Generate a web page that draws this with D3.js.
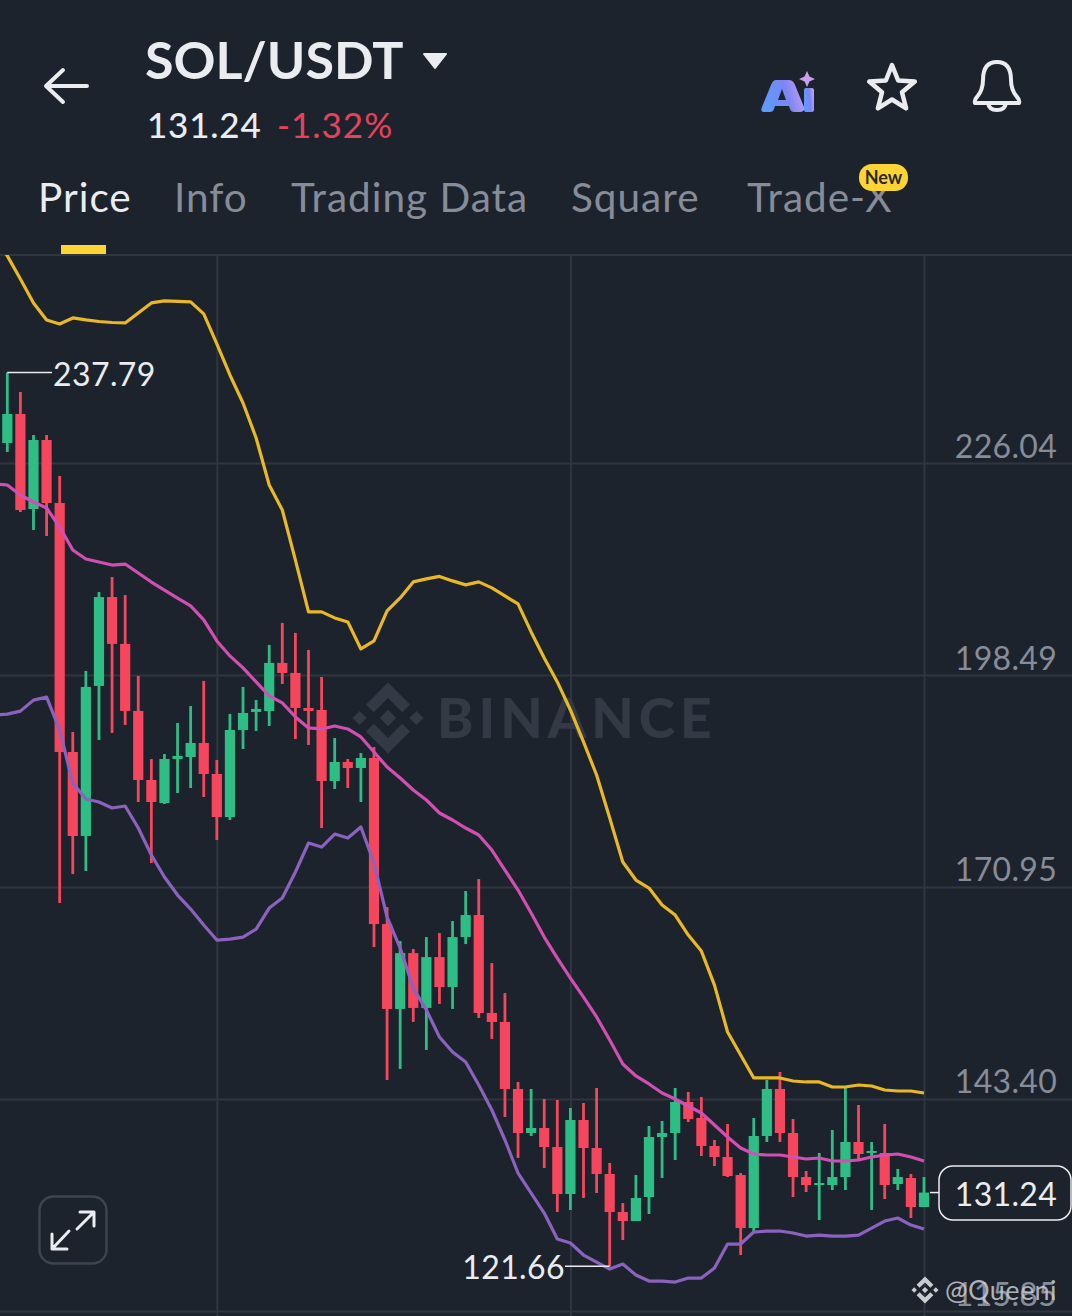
<!DOCTYPE html>
<html>
<head>
	<meta charset="utf-8">
	<title>SOL/USDT</title>
	<script src="https://d3js.org/d3.v7.min.js"></script>
	<style>
		html, body { margin: 0; padding: 0; background: #1d232d; }
		svg { display: block; font-family: "Lato", "Open Sans", sans-serif; }
	</style>
</head>
<body>
	<div id="chart"></div>

	<script type="text/javascript">

		// candles (index 0 is the leftmost candle)
		const opens = [228.64,232.41,220.06,229.03,220.84,188.49,177.57,197.07,208.62,202.53,193.82,184.85,181.86,187.58,187.84,189.66,185.63,180.04,191.35,193.69,193.82,200.06,198.76,194.21,193.95,184.72,187.19,186.41,187.71,166.13,155.10,162.36,155.23,161.84,157.94,164.44,167.30,154.58,153.41,144.70,138.98,139.63,137.16,131.05,140.67,137.03,133.65,128.71,127.54,130.66,138.46,138.98,143.01,140.93,137.29,135.86,133.52,126.63,138.59,144.70,138.98,133.26,132.22,132.22,133.26,137.81,136.38,136.38,132.35,133.13,129.36];
		const highs = [237.79,235.27,229.68,229.68,224.35,191.09,199.02,209.27,211.22,208.88,198.37,187.58,188.23,192.26,194.47,197.72,187.45,193.43,196.94,195.25,202.40,205.26,203.96,201.75,198.24,190.31,187.58,188.36,189.14,168.34,163.92,162.88,164.44,164.96,166.52,170.42,171.98,161.06,157.16,145.61,144.70,143.40,143.27,142.23,142.88,144.83,135.08,129.88,133.52,139.89,140.54,144.83,144.31,143.66,138.07,140.15,133.78,140.93,145.87,146.91,140.80,134.04,136.38,139.37,144.83,142.62,137.81,140.15,134.30,133.65,133.26];
		const lows = [227.47,219.67,217.33,216.55,168.86,172.63,173.02,190.05,190.96,192.00,181.99,174.06,181.73,183.16,183.81,182.64,177.05,179.65,188.88,191.22,191.87,197.33,190.18,189.40,178.61,183.68,183.81,181.99,163.14,145.87,147.30,153.41,149.77,155.75,155.10,163.53,153.93,151.20,141.06,135.73,138.59,134.43,128.71,128.97,130.53,131.18,121.66,125.07,127.54,128.45,133.13,135.47,140.41,135.99,134.69,133.26,123.12,126.11,137.81,137.81,130.66,131.31,127.67,131.57,131.57,135.60,128.97,130.40,131.57,127.93,129.36];
		const closes = [232.41,219.93,229.03,220.84,188.49,177.57,196.94,208.62,202.53,193.82,184.85,181.99,187.58,187.97,189.66,185.63,180.04,191.35,193.56,194.08,200.06,198.76,194.21,193.82,184.72,187.19,186.41,187.71,166.13,155.10,162.36,155.23,161.84,157.94,164.44,167.30,154.58,153.41,144.70,138.98,139.63,137.16,131.05,140.67,137.03,133.65,128.71,127.54,130.53,138.46,138.98,143.01,140.80,137.29,135.86,133.39,126.63,138.59,144.70,138.98,133.26,132.22,132.48,133.26,137.81,136.25,136.64,132.22,133.26,129.36,131.24];

		// bollinger bands, these start one candle left of the first candle
		const upperBand = [255.68,252.95,249.96,246.84,244.63,244.11,244.89,244.63,244.43,244.30,244.24,245.54,246.84,247.10,247.03,246.97,245.41,241.51,237.48,233.84,229.29,223.18,219.93,213.43,206.69,206.69,205.91,205.39,201.88,202.92,206.82,208.51,210.59,210.98,211.30,210.72,210.20,210.59,209.81,208.77,207.73,204.09,200.71,197.59,193.95,189.79,185.50,179.91,174.19,171.85,170.81,168.60,167.30,164.70,162.62,158.20,152.11,149.12,146.13,146.13,146.13,145.74,145.61,145.61,144.96,144.96,145.22,145.09,144.57,144.44,144.44,144.18];
		const midBand = [223.31,223.18,221.88,220.97,220.19,217.72,214.73,213.56,213.17,212.78,212.91,211.74,210.57,209.53,208.49,207.47,205.65,202.92,200.97,199.41,197.59,195.77,194.86,193.04,191.61,191.48,191.87,191.48,190.44,188.49,186.54,185.11,183.55,182.25,180.56,179.65,178.61,177.70,175.75,173.15,170.55,167.56,164.44,161.71,159.11,156.64,154.06,151.07,147.95,146.39,145.35,144.18,143.40,142.49,141.58,140.02,138.46,137.03,136.25,136.12,136.12,135.86,135.60,135.73,135.34,135.34,135.47,135.86,136.12,136.25,135.86,135.34];
		const lowerBand = [193.28,193.41,193.80,195.23,195.62,191.35,184.46,182.38,181.99,181.21,181.47,178.61,175.10,172.24,169.90,168.08,166.00,164.05,164.18,164.44,165.48,168.21,169.51,172.89,176.66,176.14,177.83,177.31,178.74,174.06,167.04,163.01,157.81,154.97,151.46,149.51,148.21,145.22,141.97,138.07,133.78,131.18,128.58,125.20,124.68,123.12,122.21,121.30,121.95,120.52,119.74,119.74,119.61,120.13,120.13,121.43,124.55,124.55,126.11,126.24,126.24,125.98,125.59,125.72,125.59,125.59,125.72,126.63,127.54,127.93,127.02,126.50];

		const priceTicks = [226.04, 198.49, 170.95, 143.40, 115.85];
		const gridCandles = [16, 43, 70];
		const tabs = ["Price", "Info", "Trading Data", "Square", "Trade-X"];
		const lastPrice = 131.24;
		const maxMark = {index: 0, price: 237.79};
		const minMark = {index: 46, price: 121.66};

		var width = 1072, height = 1316;
		var bg = "#1d232d", white = "#eaecef", grey = "#868c98", gridColor = "#303641";
		var red = "#f6465d", green = "#2ebd85";

		var svg = d3.select("#chart").append("svg")
			.attr("width", width)
			.attr("height", height);

		var xScale = d3.scaleLinear().domain([0, 70]).range([7.3, 924]);
		var yScale = d3.scaleLinear().domain([115.85, 226.04]).range([1311, 463]);

		svg.append("clipPath").attr("id", "plot")
			.append("rect").attr("x", 0).attr("y", 255).attr("width", width).attr("height", height - 255);

		// ---- header ----
		var header = svg.append("g");
		header.append("path")
			.attr("d", "M87 86H47M63 70L46 86L63 102")
			.attr("fill", "none").attr("stroke", white).attr("stroke-width", 4)
			.attr("stroke-linecap", "round").attr("stroke-linejoin", "round");
		header.append("text").attr("x", 145).attr("y", 79).attr("font-size", 52).attr("font-weight", 700)
			.attr("fill", white).text("SOL/USDT");
		header.append("path").attr("d", "M424 54H446L435 68Z")
			.attr("fill", white).attr("stroke", white).attr("stroke-width", 2).attr("stroke-linejoin", "round");
		header.append("text").attr("x", 147).attr("y", 138).attr("font-size", 35).attr("font-weight", 500)
			.attr("letter-spacing", 0.8).attr("fill", white).text("131.24");
		header.append("text").attr("x", 277).attr("y", 138).attr("font-size", 35)
			.attr("letter-spacing", 1).attr("fill", "#e6435a").text("-1.32%");

		// Ai icon
		var grad = svg.append("linearGradient").attr("id", "aiGrad")
			.attr("x1", "0").attr("x2", "1").attr("y1", "0.6").attr("y2", "0.4");
		grad.append("stop").attr("offset", "0").attr("stop-color", "#5b9dfb");
		grad.append("stop").attr("offset", "0.6").attr("stop-color", "#7a86f5");
		grad.append("stop").attr("offset", "1").attr("stop-color", "#c79cf0");
		header.append("path")
			.attr("fill", "url(#aiGrad)").attr("fill-rule", "evenodd")
			.attr("d", "M776 80H789Q793 80 795 85L804 107Q805 112 800 112H794Q791 112 790 109L789 106H775L774 109Q773 112 770 112H764Q760 112 762 107L771 85Q773 80 776 80ZM782 89L778 100H786Z");
		header.append("rect").attr("x", 804).attr("y", 88).attr("width", 10).attr("height", 24).attr("rx", 2).attr("fill", "url(#aiGrad)");
		header.append("path").attr("d", "M807 71L809.5 76.5L815 79L809.5 81.5L807 87L804.5 81.5L799 79L804.5 76.5Z").attr("fill", "#c9a0e8");

		// star and bell
		var starPoints = d3.range(10).map(function(i) {
			var r = i % 2 ? 10.5 : 24, a = i * Math.PI / 5;
			return [892 + r * Math.sin(a), 89 - r * Math.cos(a)];
		});
		header.append("path").attr("d", d3.line()(starPoints) + "Z")
			.attr("fill", "none").attr("stroke", white).attr("stroke-width", 4.5).attr("stroke-linejoin", "round");
		header.append("path")
			.attr("d", "M975 103Q974 100 977 97Q983 90 983 80Q983 62 997 62Q1011 62 1011 80Q1011 90 1017 97Q1020 100 1019 103Z")
			.attr("fill", "none").attr("stroke", white).attr("stroke-width", 4).attr("stroke-linejoin", "round");
		header.append("path").attr("d", "M988 103Q989 110 997 110Q1005 110 1006 103")
			.attr("fill", "none").attr("stroke", white).attr("stroke-width", 4);

		// tabs
		var tabX = [38, 174, 291, 571, 747];
		svg.append("g").selectAll("text").data(tabs).enter().append("text")
			.attr("x", function(d, i) { return tabX[i]; })
			.attr("y", 212)
			.attr("font-size", 40.5)
			.attr("letter-spacing", 1)
			.attr("fill", function(d, i) { return i == 0 ? white : grey; })
			.text(function(d) { return d; });
		svg.append("rect").attr("x", 61).attr("y", 245).attr("width", 45).attr("height", 9).attr("fill", "#fcd535");
		svg.append("rect").attr("x", 859).attr("y", 164).attr("width", 49).attr("height", 27).attr("rx", 13).attr("fill", "#fcd535");
		svg.append("text").attr("x", 883.5).attr("y", 184).attr("text-anchor", "middle")
			.attr("font-size", 18).attr("font-weight", 700).attr("fill", "#2a2a22").text("New");

		// ---- grid, made with the axes ----
		var yAxis = d3.axisLeft(yScale).tickValues(priceTicks).tickSize(width)
			.tickFormat(function(d) { return d.toFixed(2); });
		var yAxisG = svg.append("g").attr("transform", "translate(" + width + ",0)").call(yAxis);
		yAxisG.select(".domain").remove();
		yAxisG.selectAll("line").attr("stroke", gridColor).attr("stroke-width", 2);
		yAxisG.selectAll("text")
			.attr("x", -15).attr("y", -6).attr("dy", 0)
			.attr("text-anchor", "end")
			.attr("font-family", "Lato").attr("font-size", 32).attr("letter-spacing", 0.3)
			.attr("fill", grey);

		var xAxis = d3.axisTop(xScale).tickValues(gridCandles).tickSize(height - 255).tickFormat("");
		var xAxisG = svg.append("g").attr("transform", "translate(0," + height + ")").call(xAxis);
		xAxisG.select(".domain").remove();
		xAxisG.selectAll("line").attr("stroke", gridColor).attr("stroke-width", 2);

		svg.append("line").attr("x1", 0).attr("x2", width).attr("y1", 255).attr("y2", 255)
			.attr("stroke", gridColor).attr("stroke-width", 2);

		// ---- BINANCE watermark ----
		function binanceLogo(g, cx, cy, s, color) {
			// s is half the width of the mark
			var c = s * 0.23, sm = s * 0.2;
			g.append("path").attr("fill", color).attr("d",
				"M" + cx + " " + (cy - s) + "L" + (cx + s * 0.62) + " " + (cy - s * 0.38) + "L" + (cx + s * 0.4) + " " + (cy - s * 0.16) +
				"L" + cx + " " + (cy - s * 0.56) + "L" + (cx - s * 0.4) + " " + (cy - s * 0.16) + "L" + (cx - s * 0.62) + " " + (cy - s * 0.38) + "Z" +
				"M" + cx + " " + (cy + s) + "L" + (cx + s * 0.62) + " " + (cy + s * 0.38) + "L" + (cx + s * 0.4) + " " + (cy + s * 0.16) +
				"L" + cx + " " + (cy + s * 0.56) + "L" + (cx - s * 0.4) + " " + (cy + s * 0.16) + "L" + (cx - s * 0.62) + " " + (cy + s * 0.38) + "Z" +
				"M" + cx + " " + (cy - c) + "L" + (cx + c) + " " + cy + "L" + cx + " " + (cy + c) + "L" + (cx - c) + " " + cy + "Z" +
				"M" + (cx - s) + " " + cy + "L" + (cx - s + sm) + " " + (cy - sm) + "L" + (cx - s + 2 * sm) + " " + cy + "L" + (cx - s + sm) + " " + (cy + sm) + "Z" +
				"M" + (cx + s) + " " + cy + "L" + (cx + s - sm) + " " + (cy - sm) + "L" + (cx + s - 2 * sm) + " " + cy + "L" + (cx + s - sm) + " " + (cy + sm) + "Z");
		}
		binanceLogo(svg.append("g"), 388, 718, 35.5, "#333a45");
		svg.append("text").attr("x", 437).attr("y", 738).attr("font-size", 55).attr("font-weight", 900)
			.attr("letter-spacing", 5).attr("fill", "#333a45").text("BINANCE");

		// ---- candles ----
		var candles = opens.map(function(o, i) {
			return {i: i, open: o, high: highs[i], low: lows[i], close: closes[i]};
		});
		var color = function(d) { return d.close >= d.open ? green : red; };
		var plot = svg.append("g").attr("clip-path", "url(#plot)");

		plot.selectAll(".wick").data(candles).enter().append("line")
			.attr("class", "wick")
			.attr("x1", function(d) { return xScale(d.i); })
			.attr("x2", function(d) { return xScale(d.i); })
			.attr("y1", function(d) { return yScale(d.high); })
			.attr("y2", function(d) { return yScale(d.low); })
			.attr("stroke", color).attr("stroke-width", 2.8);

		plot.selectAll(".body").data(candles).enter().append("rect")
			.attr("class", "body")
			.attr("x", function(d) { return xScale(d.i) - 5.1; })
			.attr("width", 10.2)
			.attr("y", function(d) { return yScale(Math.max(d.open, d.close)); })
			.attr("height", function(d) { return Math.max(2, Math.abs(yScale(d.open) - yScale(d.close))); })
			.attr("fill", color);

		// ---- bands ----
		var bandLine = d3.line()
			.x(function(d, i) { return xScale(i - 1); })
			.y(function(d) { return yScale(d); });
		var bands = [
			{values: upperBand, color: "#e9b824"},
			{values: midBand, color: "#d24fb2"},
			{values: lowerBand, color: "#8b62bd"}
		];
		plot.selectAll(".band").data(bands).enter().append("path")
			.attr("class", "band")
			.attr("d", function(d) { return bandLine(d.values); })
			.attr("fill", "none")
			.attr("stroke", function(d) { return d.color; })
			.attr("stroke-width", 3.2)
			.attr("stroke-linejoin", "round");

		// ---- max / min labels ----
		var mx = xScale(maxMark.index), my = yScale(maxMark.price);
		svg.append("line").attr("x1", mx).attr("x2", 52).attr("y1", my).attr("y2", my).attr("stroke", white).attr("stroke-width", 1.5);
		svg.append("text").attr("x", 53).attr("y", my + 13).attr("font-size", 32).attr("letter-spacing", 0.4)
			.attr("fill", white).text(maxMark.price.toFixed(2));

		var nx = xScale(minMark.index), ny = yScale(minMark.price);
		svg.append("line").attr("x1", 565).attr("x2", nx).attr("y1", ny).attr("y2", ny).attr("stroke", white).attr("stroke-width", 1.5);
		svg.append("text").attr("x", 565).attr("y", ny + 13).attr("text-anchor", "end").attr("font-size", 32).attr("letter-spacing", 0.4)
			.attr("fill", white).text(minMark.price.toFixed(2));

		// ---- last price tag ----
		var ly = yScale(lastPrice);
		svg.append("line").attr("x1", 930).attr("x2", 939).attr("y1", ly).attr("y2", ly).attr("stroke", white).attr("stroke-width", 1.5);
		svg.append("rect").attr("x", 939).attr("y", 1166).attr("width", 132).attr("height", 54).attr("rx", 14)
			.attr("fill", bg).attr("stroke", white).attr("stroke-width", 1.5);
		svg.append("text").attr("x", 1057).attr("y", ly + 13).attr("text-anchor", "end").attr("font-size", 32).attr("letter-spacing", 0.3)
			.attr("fill", white).text(lastPrice.toFixed(2));

		// ---- expand button ----
		svg.append("rect").attr("x", 39.5).attr("y", 1196.5).attr("width", 67).attr("height", 67).attr("rx", 14)
			.attr("fill", bg).attr("stroke", "#3d444f").attr("stroke-width", 2.5);
		svg.append("path")
			.attr("d", "M77 1229L93 1213M80 1212H94V1226M69 1231L53 1248M52 1234V1249H67")
			.attr("fill", "none").attr("stroke", white).attr("stroke-width", 3)
			.attr("stroke-linecap", "round").attr("stroke-linejoin", "round");

		// ---- @Queeni mark ----
		binanceLogo(svg.append("g"), 925, 1290, 13.5, "#c9ccd1");
		svg.append("text").attr("x", 945).attr("y", 1300).attr("font-size", 27).attr("letter-spacing", 0.4)
			.attr("fill", "#c9ccd1").attr("fill-opacity", 0.85).text("@Queeni");

	</script>

</body>
</html>
